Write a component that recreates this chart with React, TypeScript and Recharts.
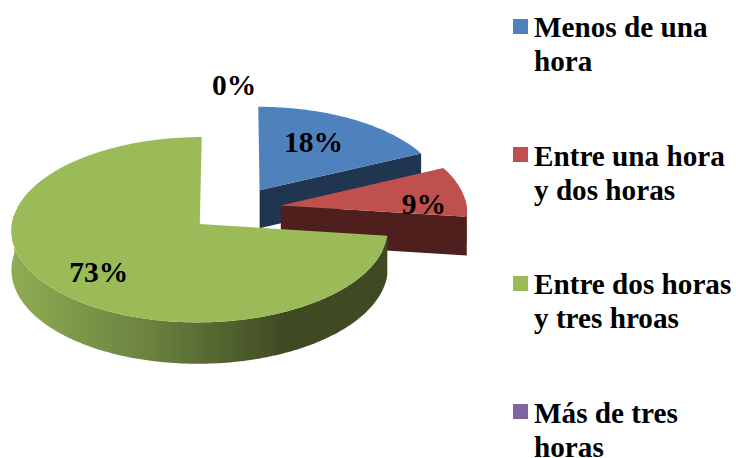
import React from "react";
import { PieChart, Pie, Cell, Legend } from "recharts";

const categories = ["Menos de una hora", "Entre una hora y dos horas", "Entre dos horas y tres hroas", "Más de tres horas"];
const shares = [18, 9, 73, 0];
const faceColors = ["#4F81BD", "#C0504D", "#9BBB59", "#8064A2"];
const wallColors = ["#203550", "#4F1F1E", "url(#greenRim)", "#3C2F4E"];
const labelNudges = [[54, -48], [143, -1], [-101, 48], [-1, -102]];

const table = categories.map((name, i) => ({ name, value: shares[i] }));

const RADIUS = 186;
const SQUASH = 90.5;
const DEPTH = 38.5;
const PERSPECTIVE = 0.06;
const EXPLODE = 0.25;
const FONT = '"Liberation Serif", "Times New Roman", serif';

const rad = (d: number) => (d * Math.PI) / 180;
const clockwise = (a: number) => 90 - a;

function project(cx: number, cy: number, u: number, v: number, z = 0) {
  const s = 1 / (1 - PERSPECTIVE * v);
  return { x: cx + RADIUS * u * s, y: cy + SQUASH * v * s + DEPTH * z * s };
}
function apexOf(mid: number) {
  return { u: EXPLODE * Math.sin(rad(mid)), v: -EXPLODE * Math.cos(rad(mid)) };
}
function rimPoint(cx: number, cy: number, apex: { u: number; v: number }, t: number, z = 0) {
  return project(cx, cy, apex.u + Math.sin(rad(t)), apex.v - Math.cos(rad(t)), z);
}
const toPath = (pts: { x: number; y: number }[]) =>
  pts.map((p, i) => `${i ? "L" : "M"}${p.x.toFixed(2)},${p.y.toFixed(2)}`).join(" ") + " Z";

function Sector3D(props: any) {
  const { cx, cy, startAngle, endAngle, fill, index } = props;
  const t0 = clockwise(startAngle);
  const t1 = clockwise(endAngle);
  if (Math.abs(t1 - t0) < 0.01) return <g />;
  const mid = (t0 + t1) / 2;
  const apex = apexOf(mid);
  const wall = wallColors[index ?? faceColors.indexOf(fill)];
  const steps = Math.max(8, Math.ceil(t1 - t0));
  const face = [project(cx, cy, apex.u, apex.v)];
  for (let i = 0; i <= steps; i++) face.push(rimPoint(cx, cy, apex, t0 + ((t1 - t0) * i) / steps));

  const from = Math.max(t0, 85);
  const to = Math.min(t1, 276);
  const rim: { x: number; y: number }[] = [];
  if (to > from) {
    const n = Math.ceil(to - from) + 1;
    for (let i = 0; i <= n; i++) rim.push(rimPoint(cx, cy, apex, from + ((to - from) * i) / n, 0));
    for (let i = n; i >= 0; i--) rim.push(rimPoint(cx, cy, apex, from + ((to - from) * i) / n, 1));
  }
  const edgeAngle = t1 < 180 ? t1 : t0 > 180 ? t0 : null;
  const edgeWall =
    edgeAngle === null
      ? null
      : [
          project(cx, cy, apex.u, apex.v),
          rimPoint(cx, cy, apex, edgeAngle),
          rimPoint(cx, cy, apex, edgeAngle, 1),
          project(cx, cy, apex.u, apex.v, 1),
        ];
  return (
    <g>
      {rim.length > 0 && <path d={toPath(rim)} fill={wall} stroke="none" />}
      {edgeWall && <path d={toPath(edgeWall)} fill={wall} stroke="none" />}
      <path d={toPath(face)} fill={fill} stroke="none" />
    </g>
  );
}

function SliceLabel(props: any) {
  const { cx, cy, midAngle, index, value } = props;
  const apex = apexOf(clockwise(midAngle));
  const p = project(cx, cy, apex.u, apex.v);
  const [dx, dy] = labelNudges[index];
  return (
    <text x={p.x + dx} y={p.y + dy} textAnchor="middle" dominantBaseline="central" fontFamily={FONT} fontWeight="bold" fontSize={29.5} fill="#000">
      {`${value}%`}
    </text>
  );
}

function LegendBlock({ payload }: any) {
  return (
    <div style={{ fontFamily: FONT, fontWeight: "bold", fontSize: 29.2, lineHeight: "34px", color: "#000" }}>
      {(payload || []).map((item: any) => (
        <div key={item.value} style={{ position: "relative", height: 128.5, paddingLeft: 21 }}>
          <span style={{ position: "absolute", left: 0, top: 8.5, width: 15, height: 15, background: item.color }} />
          {item.value}
        </div>
      ))}
    </div>
  );
}

export default function App() {
  return (
    <div style={{ position: "absolute", left: 0, top: 0, width: 736, height: 458, overflow: "hidden", background: "#fff" }}>
      <PieChart width={736} height={458} margin={{ top: 0, right: 0, bottom: 0, left: 0 }}>
        <defs>
          <linearGradient id="greenRim" gradientUnits="userSpaceOnUse" x1="11" y1="0" x2="285" y2="0">
            <stop offset="0" stopColor="#8FAD53" />
            <stop offset="0.5" stopColor="#6B8240" />
            <stop offset="1" stopColor="#3F4A22" />
          </linearGradient>
        </defs>
        <Legend
          layout="vertical"
          align="right"
          verticalAlign="top"
          itemSorter={null}
          content={<LegendBlock />}
          wrapperStyle={{ position: "absolute", left: 513, top: 10, width: 223 }}
        />
        <Pie
          data={table}
          dataKey="value"
          nameKey="name"
          cx={235}
          cy={209}
          outerRadius={RADIUS}
          startAngle={90}
          endAngle={-270}
          stroke="none"
          isAnimationActive={false}
          shape={Sector3D}
          label={SliceLabel}
          labelLine={false}
        >
          {faceColors.map((c) => (
            <Cell key={c} fill={c} />
          ))}
        </Pie>
      </PieChart>
    </div>
  );
}
